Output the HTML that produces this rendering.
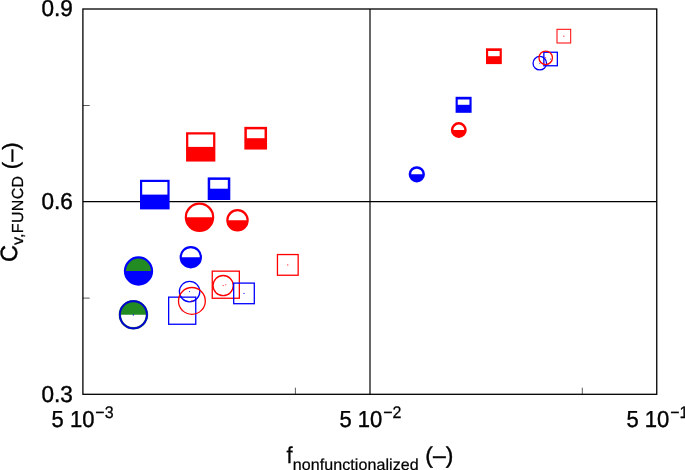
<!DOCTYPE html>
<html><head><meta charset="utf-8"><title>chart</title>
<style>
html,body{margin:0;padding:0;background:#fff;}
body{width:685px;height:470px;overflow:hidden;font-family:"Liberation Sans",sans-serif;}
svg{display:block;}
text{text-rendering:geometricPrecision;}
</style></head><body>
<svg width="685" height="470" viewBox="0 0 685 470">
<rect x="0" y="0" width="685" height="470" fill="#fff"/>
<line x1="82.9" y1="201.65" x2="656.75" y2="201.65" stroke="#000" stroke-width="1.25"/>
<line x1="370.0" y1="9.0" x2="370.0" y2="394.3" stroke="#000" stroke-width="1.2"/>
<line x1="82.9" y1="105.5" x2="89.7" y2="105.5" stroke="#333" stroke-width="0.8"/>
<line x1="82.9" y1="298.1" x2="89.7" y2="298.1" stroke="#333" stroke-width="0.8"/>
<line x1="295.4" y1="394.3" x2="295.4" y2="387.7" stroke="#333" stroke-width="0.8"/>
<line x1="582.3" y1="394.3" x2="582.3" y2="387.7" stroke="#333" stroke-width="0.8"/>
<rect x="82.9" y="9.0" width="573.85" height="385.30" fill="none" stroke="#000" stroke-width="1.3"/>
<rect x="168.65" y="297.15" width="27.10" height="27.10" fill="none" stroke="#0000ff" stroke-width="1.3" stroke-opacity="1"/>
<circle cx="182.20" cy="310.70" r="0.55" fill="#0000ff"/>
<circle cx="189.60" cy="291.60" r="10.20" fill="none" stroke="#0000ff" stroke-width="1.3" stroke-opacity="1"/>
<circle cx="189.60" cy="291.60" r="0.55" fill="#0000ff"/>
<circle cx="191.90" cy="300.90" r="13.40" fill="none" stroke="#ff0000" stroke-width="1.3" stroke-opacity="1"/>
<circle cx="191.90" cy="300.90" r="0.55" fill="#ff0000"/>
<rect x="212.25" y="271.15" width="27.10" height="27.10" fill="none" stroke="#ff0000" stroke-width="1.3" stroke-opacity="1"/>
<circle cx="225.80" cy="284.70" r="0.55" fill="#ff0000"/>
<circle cx="223.15" cy="285.60" r="10.10" fill="none" stroke="#ff0000" stroke-width="1.3" stroke-opacity="1"/>
<circle cx="223.15" cy="285.60" r="0.55" fill="#ff0000"/>
<rect x="233.70" y="283.10" width="20.60" height="20.60" fill="none" stroke="#0000ff" stroke-width="1.3" stroke-opacity="1"/>
<circle cx="244.00" cy="293.40" r="0.55" fill="#0000ff"/>
<rect x="277.45" y="254.55" width="20.70" height="20.70" fill="none" stroke="#ff0000" stroke-width="1.3" stroke-opacity="1"/>
<circle cx="287.80" cy="264.90" r="0.55" fill="#ff0000"/>
<rect x="557.00" y="29.30" width="13.70" height="13.70" fill="none" stroke="#ff0000" stroke-width="1.0" stroke-opacity="1"/>
<circle cx="563.85" cy="36.15" r="0.55" fill="#ff0000"/>
<circle cx="539.80" cy="63.20" r="6.75" fill="none" stroke="#0000ff" stroke-width="1.3" stroke-opacity="1"/>
<circle cx="539.80" cy="63.20" r="0.55" fill="#0000ff"/>
<rect x="543.85" y="52.25" width="13.50" height="13.50" fill="none" stroke="#0000ff" stroke-width="1.3" stroke-opacity="1"/>
<circle cx="550.60" cy="59.00" r="0.55" fill="#0000ff"/>
<circle cx="545.70" cy="57.80" r="6.75" fill="none" stroke="#ff0000" stroke-width="1.3" stroke-opacity="1"/>
<circle cx="545.70" cy="57.80" r="0.55" fill="#ff0000"/>
<rect x="186.05" y="132.25" width="29.30" height="29.30" fill="#ff0000"/>
<rect x="188.30" y="134.50" width="24.80" height="12.40" fill="#fff"/>
<rect x="244.35" y="126.85" width="22.70" height="22.70" fill="#ff0000"/>
<rect x="246.85" y="129.35" width="17.70" height="8.85" fill="#fff"/>
<rect x="140.00" y="179.80" width="29.60" height="29.60" fill="#0000ff"/>
<rect x="142.20" y="182.00" width="25.20" height="12.60" fill="#fff"/>
<rect x="207.70" y="177.40" width="22.60" height="22.60" fill="#0000ff"/>
<rect x="210.20" y="179.90" width="17.60" height="8.80" fill="#fff"/>
<rect x="486.00" y="48.30" width="15.80" height="15.80" fill="#ff0000"/>
<rect x="488.15" y="51.00" width="11.50" height="5.20" fill="#fff"/>
<rect x="455.60" y="96.80" width="16.00" height="16.00" fill="#0000ff"/>
<rect x="457.75" y="99.50" width="11.70" height="5.30" fill="#fff"/>
<circle cx="199.50" cy="217.30" r="13.65" fill="#fff"/>
<path d="M185.85 217.30 A13.65 13.65 0 0 0 213.15 217.30 Z" fill="#ff0000"/>
<circle cx="199.50" cy="217.30" r="13.65" fill="none" stroke="#ff0000" stroke-width="2.2"/>
<circle cx="237.50" cy="220.30" r="10.15" fill="#fff"/>
<path d="M227.35 220.30 A10.15 10.15 0 0 0 247.65 220.30 Z" fill="#ff0000"/>
<circle cx="237.50" cy="220.30" r="10.15" fill="none" stroke="#ff0000" stroke-width="2.2"/>
<circle cx="190.80" cy="257.20" r="10.10" fill="#fff"/>
<path d="M180.70 257.20 A10.10 10.10 0 0 0 200.90 257.20 Z" fill="#0000ff"/>
<circle cx="190.80" cy="257.20" r="10.10" fill="none" stroke="#0000ff" stroke-width="2.2"/>
<circle cx="458.80" cy="130.00" r="6.70" fill="#fff"/>
<path d="M452.10 130.00 A6.70 6.70 0 0 0 465.50 130.00 Z" fill="#ff0000"/>
<circle cx="458.80" cy="130.00" r="6.70" fill="none" stroke="#ff0000" stroke-width="2.5"/>
<circle cx="416.80" cy="174.33" r="6.90" fill="#fff"/>
<path d="M409.90 174.33 A6.90 6.90 0 0 0 423.70 174.33 Z" fill="#0000ff"/>
<circle cx="416.80" cy="174.33" r="6.90" fill="none" stroke="#0000ff" stroke-width="2.5"/>
<circle cx="138.50" cy="271.00" r="13.55" fill="#228b22"/>
<path d="M124.95 271.00 A13.55 13.55 0 0 0 152.05 271.00 Z" fill="#0000ff"/>
<circle cx="138.50" cy="271.00" r="13.55" fill="none" stroke="#0000ff" stroke-width="2.2"/>
<circle cx="133.40" cy="314.75" r="13.55" fill="#228b22"/>
<path d="M119.85 314.75 A13.55 13.55 0 0 0 146.95 314.75 Z" fill="#fff"/>
<circle cx="133.40" cy="314.75" r="13.55" fill="none" stroke="#0000d2" stroke-width="1.9"/>
<circle cx="133.4" cy="314.75" r="13.55" fill="none" stroke="#228b22" stroke-width="2.6" stroke-opacity="0.55"/>
<circle cx="133.4" cy="314.75" r="13.55" fill="none" stroke="#0000d2" stroke-width="1.7"/>
<circle cx="133.4" cy="314.9" r="0.7" fill="#0000ff"/>
<g style="opacity:0.999">
<text transform="translate(72.90,16.40) scale(1.025,1.05)" text-anchor="end" font-size="22" stroke-width="0.4" font-family="Liberation Sans, sans-serif" fill="#000" stroke="#000">0.9</text>
<text transform="translate(72.90,209.05) scale(1.025,1.05)" text-anchor="end" font-size="22" stroke-width="0.4" font-family="Liberation Sans, sans-serif" fill="#000" stroke="#000">0.6</text>
<text transform="translate(72.90,401.70) scale(1.025,1.05)" text-anchor="end" font-size="22" stroke-width="0.4" font-family="Liberation Sans, sans-serif" fill="#000" stroke="#000">0.3</text>
<text transform="translate(51.60,427.10) scale(1.0,1.05)" text-anchor="start" font-size="22" stroke-width="0.4" font-family="Liberation Sans, sans-serif" fill="#000" stroke="#000">5 10</text>
<text transform="translate(95.30,417.90) scale(1.0,1.05)" text-anchor="start" font-size="16" stroke-width="0.25" font-family="Liberation Sans, sans-serif" fill="#000" stroke="#000">&#8722;3</text>
<text transform="translate(339.52,427.10) scale(1.0,1.05)" text-anchor="start" font-size="22" stroke-width="0.4" font-family="Liberation Sans, sans-serif" fill="#000" stroke="#000">5 10</text>
<text transform="translate(383.22,417.90) scale(1.0,1.05)" text-anchor="start" font-size="16" stroke-width="0.25" font-family="Liberation Sans, sans-serif" fill="#000" stroke="#000">&#8722;2</text>
<text transform="translate(626.45,427.10) scale(1.0,1.05)" text-anchor="start" font-size="22" stroke-width="0.4" font-family="Liberation Sans, sans-serif" fill="#000" stroke="#000">5 10</text>
<text transform="translate(670.15,417.90) scale(1.0,1.05)" text-anchor="start" font-size="16" stroke-width="0.25" font-family="Liberation Sans, sans-serif" fill="#000" stroke="#000">&#8722;1</text>
<text transform="translate(286.60,462.60) scale(1.0,1.05)" text-anchor="start" font-size="22" stroke-width="0.25" font-family="Liberation Sans, sans-serif" fill="#000" stroke="#000">f</text>
<text transform="translate(292.70,470.00)" text-anchor="start" font-size="16" textLength="126.0" lengthAdjust="spacing" stroke-width="0.25" font-family="Liberation Sans, sans-serif" fill="#000" stroke="#000">nonfunctionalized</text>
<text transform="translate(425.30,463.30) scale(1.04,1.04)" text-anchor="start" font-size="22" stroke-width="0.4" font-family="Liberation Sans, sans-serif" fill="#000" stroke="#000">(&#8211;)</text>
<text transform="translate(17.20,262.00) rotate(-90) scale(1.07,1.07)" text-anchor="start" font-size="22" stroke-width="0.4" font-family="Liberation Sans, sans-serif" fill="#000" stroke="#000">C</text>
<text transform="translate(23.30,245.10) rotate(-90)" text-anchor="start" font-size="16" textLength="69.2" lengthAdjust="spacing" stroke-width="0.25" font-family="Liberation Sans, sans-serif" fill="#000" stroke="#000">v,FUNCD</text>
<text transform="translate(17.60,169.20) rotate(-90)" text-anchor="start" font-size="22" stroke-width="0.4" font-family="Liberation Sans, sans-serif" fill="#000" stroke="#000">(&#8211;)</text>
</g>
</svg>
</body></html>
